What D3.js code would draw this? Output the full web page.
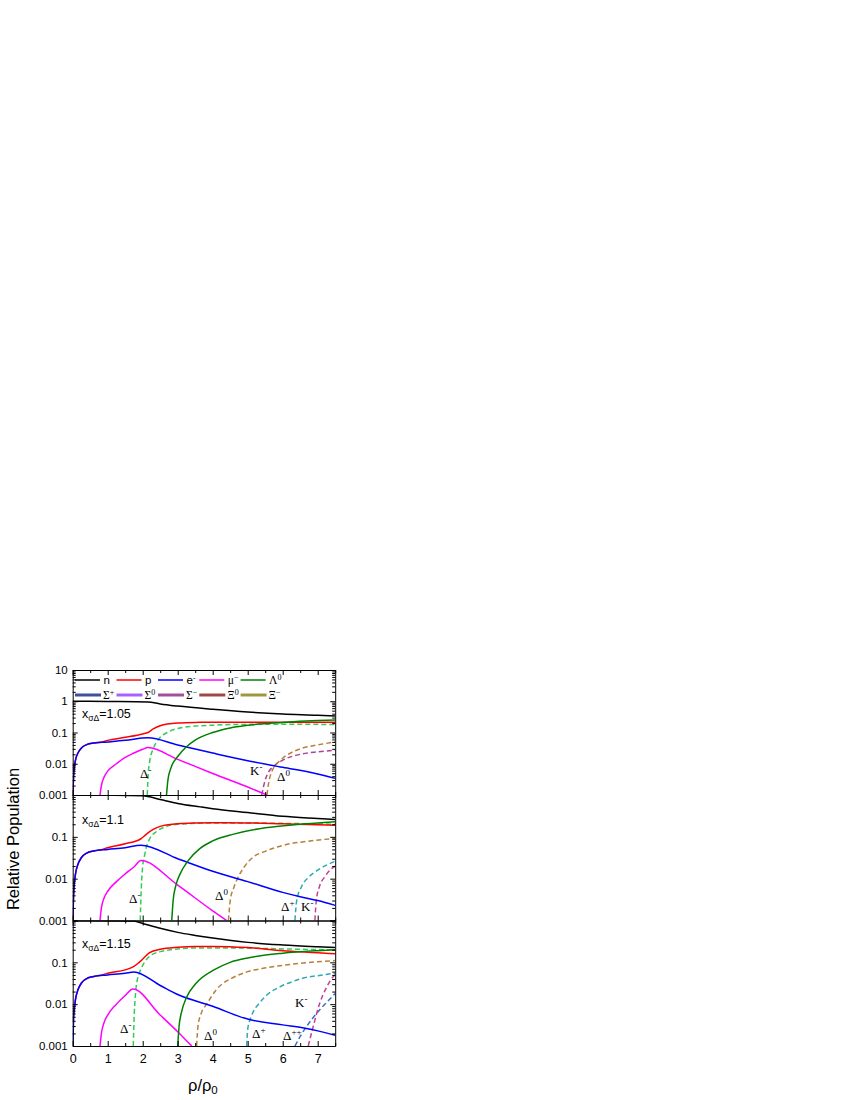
<!DOCTYPE html>
<html><head><meta charset="utf-8">
<script src="https://cdn.jsdelivr.net/npm/d3@7"></script>
<style>
body{margin:0;background:#fff;}
text{font-family:"Liberation Sans",Arial,sans-serif;}
.serif{font-family:"Liberation Serif","Times New Roman",serif;}
</style></head>
<body>
<svg id="c" width="850" height="1100"></svg>
<script>
// ---------- DATA ----------
const xTickValues = [0,1,2,3,4,5,6,7];
const xMinorValues = [0.5,1.5,2.5,3.5,4.5,5.5,6.5,7.5];
const panelParams = ["1.05","1.1","1.15"];
const legendRow1 = ["n","p","e","μ","Λ"];
const legendRow1Sup = ["","","-","−","0"];
const legendRow2 = ["Σ","Σ","Σ","Ξ","Ξ"];
const legendRow2Sup = ["+","0","−","0","−"];

// panel 1 : x_sigmaDelta = 1.05
const n_105 = [[0,1.0],[1,0.98],[2.15,0.95],[2.5,0.82],[3,0.7],[4,0.55],[5,0.45],[6,0.39],[7,0.355],[7.5,0.335]];
const p_105 = [[0.005,0.001],[0.03,0.005],[0.08,0.013],[0.15,0.022],[0.25,0.032],[0.4,0.041],[0.6,0.046],[0.8,0.049],[1,0.056],[1.5,0.07],[2.0,0.09],[2.15,0.1],[2.3,0.13],[2.5,0.165],[3,0.2],[3.5,0.21],[4,0.212],[5,0.213],[6,0.213],[7.5,0.212]];
const e_105 = [[0.005,0.001],[0.03,0.005],[0.08,0.013],[0.15,0.022],[0.25,0.032],[0.4,0.041],[0.6,0.046],[1,0.05],[1.5,0.056],[2.15,0.068],[3,0.04],[4,0.022],[5,0.0125],[6,0.0077],[7,0.0047],[7.5,0.0034]];
const mu_105 = [[0.78,0.001],[0.82,0.002],[0.9,0.0038],[1.0,0.0058],[1.25,0.01],[1.5,0.016],[1.75,0.022],[2.0,0.029],[2.15,0.033],[3,0.0138],[4,0.0049],[5,0.0018],[5.55,0.001]];
const lam_105 = [[2.68,0.001],[2.72,0.003],[2.8,0.007],[3,0.017],[3.25,0.035],[3.5,0.057],[4,0.1],[4.5,0.14],[5,0.17],[6,0.21],[7,0.24],[7.5,0.25]];
const dm_105 = [[2.13,0.001],[2.16,0.005],[2.2,0.012],[2.3,0.03],[2.4,0.05],[2.5,0.07],[2.7,0.1],[3,0.135],[3.5,0.16],[4,0.172],[5,0.182],[6,0.185],[7.5,0.18]];
const km_105 = [[5.4,0.001],[5.5,0.003],[5.6,0.0055],[5.75,0.0085],[6,0.013],[6.5,0.02],[7,0.024],[7.5,0.027]];
const d0_105 = [[5.55,0.001],[5.6,0.0025],[5.7,0.006],[5.8,0.009],[6,0.015],[6.5,0.03],[7,0.04],[7.5,0.05]];

// panel 2 : x_sigmaDelta = 1.1
const n_11 = [[0,1.0],[1,0.99],[2.0,0.96],[2.5,0.78],[3,0.63],[3.64,0.52],[4,0.47],[5,0.38],[6,0.31],[7,0.275],[7.5,0.26]];
const p_11 = [[0.005,0.001],[0.03,0.005],[0.08,0.013],[0.15,0.022],[0.25,0.032],[0.4,0.041],[0.6,0.046],[0.8,0.049],[1,0.055],[1.5,0.068],[1.95,0.09],[2.1,0.115],[2.3,0.15],[2.5,0.178],[3,0.205],[3.5,0.215],[4,0.218],[5,0.215],[6,0.205],[7,0.195],[7.5,0.19]];
const e_11 = [[0.005,0.001],[0.03,0.005],[0.08,0.013],[0.15,0.022],[0.25,0.032],[0.4,0.041],[0.6,0.046],[1,0.05],[1.5,0.055],[1.95,0.063],[3,0.03],[4,0.015],[5,0.0085],[6,0.0047],[6.5,0.0037],[7,0.003],[7.5,0.0023]];
const mu_11 = [[0.78,0.001],[0.82,0.002],[0.9,0.0035],[1.0,0.005],[1.25,0.0085],[1.5,0.013],[1.75,0.019],[1.95,0.027],[3,0.007],[4,0.0017],[4.4,0.001]];
const lam_11 = [[2.83,0.001],[2.87,0.003],[2.95,0.007],[3.07,0.013],[3.3,0.027],[3.64,0.053],[4,0.08],[4.6,0.116],[5.5,0.165],[6.5,0.2],[7.5,0.23]];
const dm_11 = [[1.93,0.001],[1.96,0.006],[2.0,0.02],[2.05,0.035],[2.1,0.055],[2.2,0.09],[2.4,0.135],[2.7,0.18],[3,0.2],[3.5,0.21],[4,0.215],[5,0.215],[6,0.21],[7.5,0.2]];
const d0_11 = [[4.45,0.001],[4.5,0.003],[4.6,0.006],[4.69,0.0093],[4.9,0.019],[5.16,0.033],[5.5,0.045],[6.02,0.063],[6.7,0.078],[7.5,0.092]];
const dp_11 = [[6.35,0.001],[6.4,0.003],[6.54,0.0065],[6.75,0.011],[7,0.016],[7.25,0.021],[7.5,0.026]];
const km_11 = [[6.92,0.001],[6.96,0.003],[7.05,0.0065],[7.2,0.011],[7.35,0.016],[7.5,0.02]];

// panel 3 : x_sigmaDelta = 1.15
const n_115 = [[0,1.0],[1,0.99],[1.75,0.97],[2.0,0.85],[2.5,0.65],[3,0.52],[3.5,0.44],[4,0.38],[5,0.3],[6,0.26],[7,0.235],[7.5,0.225]];
const p_115 = [[0.002,0.004],[0.04,0.007],[0.08,0.013],[0.15,0.022],[0.25,0.032],[0.4,0.041],[0.6,0.046],[0.8,0.049],[1,0.055],[1.5,0.066],[1.75,0.08],[1.9,0.1],[2.2,0.17],[2.5,0.205],[3,0.23],[3.5,0.24],[4,0.24],[5,0.225],[6,0.19],[7,0.17],[7.5,0.16]];
const e_115 = [[0.005,0.001],[0.03,0.005],[0.08,0.013],[0.15,0.022],[0.25,0.032],[0.4,0.041],[0.6,0.046],[1,0.05],[1.5,0.055],[1.75,0.059],[2.5,0.028],[3,0.017],[4,0.0089],[5,0.0044],[6,0.0032],[6.6,0.0027],[7,0.0023],[7.5,0.0018]];
const mu_115 = [[0.78,0.001],[0.82,0.002],[0.9,0.0037],[1.0,0.0055],[1.25,0.01],[1.5,0.016],[1.72,0.023],[2.5,0.0055],[3,0.0022],[3.4,0.001]];
const lam_115 = [[3.0,0.001],[3.04,0.003],[3.1,0.006],[3.26,0.015],[3.5,0.03],[4.05,0.067],[4.5,0.1],[5,0.127],[6,0.165],[7,0.19],[7.5,0.2]];
const dm_115 = [[1.73,0.001],[1.76,0.006],[1.8,0.02],[1.85,0.04],[1.92,0.06],[2.05,0.1],[2.2,0.14],[2.5,0.18],[2.8,0.2],[3.5,0.22],[4.5,0.22],[5.5,0.215],[6.5,0.205],[7.5,0.2]];
const d0_115 = [[3.54,0.001],[3.58,0.003],[3.67,0.006],[3.83,0.01],[4.1,0.022],[4.6,0.044],[5,0.06],[5.54,0.074],[6.5,0.095],[7.5,0.11]];
const dp_115 = [[4.97,0.001],[5.0,0.0025],[5.1,0.005],[5.35,0.011],[5.6,0.018],[5.92,0.026],[6.25,0.034],[6.59,0.042],[7,0.048],[7.5,0.055]];
const dpp_115 = [[6.35,0.001],[6.5,0.0017],[6.68,0.0029],[7.06,0.0074],[7.3,0.012],[7.5,0.018]];
const km_115 = [[6.73,0.001],[6.87,0.0029],[7.06,0.0106],[7.26,0.026],[7.45,0.046],[7.5,0.05]];

// ---------- STYLE ----------
const COL = {n:"#000000",p:"#ff0000",e:"#0000ff",mu:"#ff00ff",lam:"#008000",
  dm:"#33cc55",d0:"#b8803a",dp:"#30a8b0",dpp:"#3c70c8",km:"#c0409a",km1:"#b0409a"};
const legendRow1Col = [COL.n,COL.p,COL.e,COL.mu,COL.lam];
const legendRow2Col = ["#3f4f9f","#a860ff","#a0509a","#a04848","#a09840"];

const panels = [
  {dom:[0.001,10], y0:670, y1:795, majors:[0.001,0.01,0.1,1,10], labels:[0.001,0.01,0.1,1,10],
   series:[["n",n_105],["p",p_105],["e",e_105],["mu",mu_105],["lam",lam_105]],
   dashed:[["dm",dm_105],["km1",km_105],["d0",d0_105]],
   tags:[["Δ","-",140,778],["K","-",250,775],["Δ","0",277,781]], tagY:718},
  {dom:[0.001,1], y0:795, y1:920.5, majors:[0.001,0.01,0.1,1], labels:[0.001,0.01,0.1],
   series:[["n",n_11],["p",p_11],["e",e_11],["mu",mu_11],["lam",lam_11]],
   dashed:[["dm",dm_11],["d0",d0_11],["dp",dp_11],["km",km_11]],
   tags:[["Δ","-",129,903],["Δ","0",215,900],["Δ","+",281,911],["K","-",301,911]], tagY:824},
  {dom:[0.001,1], y0:920.5, y1:1046, majors:[0.001,0.01,0.1,1], labels:[0.001,0.01,0.1],
   series:[["n",n_115],["p",p_115],["e",e_115],["mu",mu_115],["lam",lam_115]],
   dashed:[["dm",dm_115],["d0",d0_115],["dp",dp_115],["dpp",dpp_115],["km",km_115]],
   tags:[["Δ","-",120,1033],["Δ","0",204,1040],["Δ","+",252,1038],["Δ","++",283,1040],["K","-",295,1007]], tagY:948}
];

const svg = d3.select("#c");
const X0 = 72.7, X1 = 335.2;
const x = d3.scaleLinear().domain([0,7.5]).range([X0,X1]);

panels.forEach((P,i)=>{
  const y = d3.scaleLog().domain(P.dom).range([P.y1,P.y0]);
  const cid = "clip"+i;
  svg.append("clipPath").attr("id",cid).append("rect")
    .attr("x",X0).attr("y",P.y0).attr("width",X1-X0).attr("height",P.y1-P.y0);
  const g = svg.append("g");
  const line = d3.line().x(d=>x(d[0])).y(d=>y(d[1])).curve(d3.curveMonotoneX);
  const lg = g.append("g").attr("clip-path",`url(#${cid})`);
  P.dashed.forEach(([k,d])=>{
    lg.append("path").attr("d",line(d)).attr("fill","none").attr("stroke",COL[k])
      .attr("stroke-width",1.5).attr("stroke-dasharray","5,3");
  });
  P.series.forEach(([k,d])=>{
    lg.append("path").attr("d",line(d)).attr("fill","none").attr("stroke",COL[k]).attr("stroke-width",1.5);
  });

  // minor y ticks
  const minors = [];
  for(let e=-3;e<Math.log10(P.dom[1]);e++) for(let m=2;m<10;m++) minors.push(m*Math.pow(10,e));
  const fmt = d=> P.labels.includes(d) ? String(d) : "";
  g.append("g").attr("transform",`translate(${X0},0)`)
    .call(d3.axisLeft(y).tickValues(P.majors).tickSize(-5).tickSizeOuter(0).tickPadding(5).tickFormat(fmt))
    .call(a=>a.selectAll("text").attr("font-size",11.5).attr("fill","#000"));
  g.append("g").attr("transform",`translate(${X0},0)`)
    .call(d3.axisLeft(y).tickValues(minors).tickSize(-3).tickFormat(""))
    .call(a=>a.select(".domain").remove());
  g.append("g").attr("transform",`translate(${X1},0)`)
    .call(d3.axisRight(y).tickValues(P.majors).tickSize(-5).tickSizeOuter(0).tickFormat(""));
  g.append("g").attr("transform",`translate(${X1},0)`)
    .call(d3.axisRight(y).tickValues(minors).tickSize(-3).tickFormat(""))
    .call(a=>a.select(".domain").remove());
  // x ticks top & bottom
  const bottom = g.append("g").attr("transform",`translate(0,${P.y1})`)
    .call(d3.axisBottom(x).tickValues(xTickValues).tickSize(-5).tickSizeOuter(0).tickPadding(8)
      .tickFormat(i===2? d3.format("d") : ""));
  bottom.selectAll("text").attr("font-size",12.5).attr("fill","#000");
  g.append("g").attr("transform",`translate(0,${P.y1})`)
    .call(d3.axisBottom(x).tickValues(xMinorValues).tickSize(-3).tickFormat(""))
    .call(a=>a.select(".domain").remove());
  g.append("g").attr("transform",`translate(0,${P.y0})`)
    .call(d3.axisTop(x).tickValues(xTickValues).tickSize(-5).tickSizeOuter(0).tickFormat(""));
  g.append("g").attr("transform",`translate(0,${P.y0})`)
    .call(d3.axisTop(x).tickValues(xMinorValues).tickSize(-3).tickFormat(""))
    .call(a=>a.select(".domain").remove());
  g.selectAll(".domain").attr("stroke","#000").attr("stroke-width",1);
  g.selectAll(".tick line").attr("stroke","#000");

  // panel parameter label
  const t = g.append("text").attr("x",82).attr("y",P.tagY).attr("font-size",12.5);
  t.append("tspan").text("x");
  t.append("tspan").attr("font-size",8.5).attr("dy",3).text("σΔ");
  t.append("tspan").attr("dy",-3).text("="+panelParams[i]);

  // curve tags
  P.tags.forEach(([b,s,tx,ty])=>{
    const tt = g.append("text").attr("class","serif").attr("x",tx).attr("y",ty).attr("font-size",13);
    tt.append("tspan").text(b);
    tt.append("tspan").attr("font-size",9).attr("dy",-5).text(s);
  });
});

// legend (panel 1)
const lx = [75,116.5,158,199.3,240.6];
legendRow1.forEach((s,i)=>{
  svg.append("line").attr("x1",lx[i]).attr("x2",lx[i]+25).attr("y1",680).attr("y2",680)
    .attr("stroke",legendRow1Col[i]).attr("stroke-width",1.5);
  const t = svg.append("text").attr("x",lx[i]+28.5).attr("y",684).attr("font-size",11.5)
    .attr("class", i>=3 ? "serif":null);
  t.append("tspan").text(s);
  if(legendRow1Sup[i]) t.append("tspan").attr("font-size",8).attr("dy",-4).text(legendRow1Sup[i]);
});
legendRow2.forEach((s,i)=>{
  svg.append("line").attr("x1",lx[i]).attr("x2",lx[i]+26).attr("y1",695).attr("y2",695)
    .attr("stroke",legendRow2Col[i]).attr("stroke-width",3);
  const t = svg.append("text").attr("class","serif").attr("x",lx[i]+28).attr("y",699).attr("font-size",11.5);
  t.append("tspan").text(s);
  t.append("tspan").attr("font-size",8).attr("dy",-4).text(legendRow2Sup[i]);
});

// axis titles
svg.append("text").attr("transform","translate(19,839) rotate(-90)").attr("text-anchor","middle")
  .attr("font-size",16.5).text("Relative Population");
const xt = svg.append("text").attr("x",188).attr("y",1091).attr("font-size",16.5);
xt.append("tspan").text("ρ/ρ");
xt.append("tspan").attr("font-size",11.5).attr("dy",3).text("0");
</script>
</body></html>
